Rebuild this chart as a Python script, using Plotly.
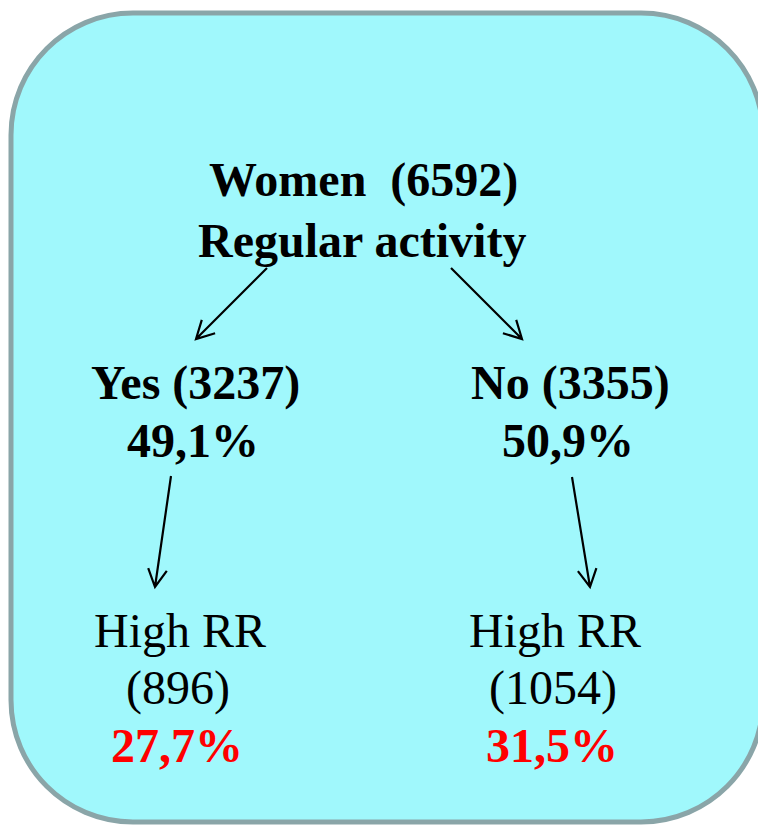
import math
import plotly.graph_objects as go

# ---- data ----
root_label = "Women"
root_n = 6592
question = "Regular activity"
group_labels = ["Yes", "No"]
group_n = [3237, 3355]
group_pct = ["49,1%", "50,9%"]
outcome_label = "High RR"
outcome_n = [896, 1054]
outcome_pct = ["27,7%", "31,5%"]

W, H = 758, 826
FONT = "Liberation Serif, Times New Roman, serif"
FS = 48

fig = go.Figure()
fig.add_trace(go.Scatter(x=[0], y=[0], mode="markers", marker=dict(opacity=0), hoverinfo="skip", showlegend=False))

# rounded box
x0, y0, x1, y1, r = 11, 13, 763, 822, 122
k = 0.5523 * r
path = (f"M{x0+r},{y0} L{x1-r},{y0} C{x1-r+k},{y0} {x1},{y0+r-k} {x1},{y0+r} "
        f"L{x1},{y1-r} C{x1},{y1-r+k} {x1-r+k},{y1} {x1-r},{y1} "
        f"L{x0+r},{y1} C{x0+r-k},{y1} {x0},{y1-r+k} {x0},{y1-r} "
        f"L{x0},{y0+r} C{x0},{y0+r-k} {x0+r-k},{y0} {x0+r},{y0} Z")
shapes = [dict(type="path", path=path, xref="x", yref="y",
               fillcolor="#a0f8fc", line=dict(color="#8aa5a8", width=5), layer="below")]

def arrow(xs, ys, xe, ye, L=20, ang=28):
    a = math.atan2(ye - ys, xe - xs)
    pts = []
    for s in (1, -1):
        b = a + math.pi + s * math.radians(ang)
        pts.append((xe + L * math.cos(b), ye + L * math.sin(b)))
    p = (f"M{xs},{ys} L{xe},{ye} M{pts[0][0]:.1f},{pts[0][1]:.1f} L{xe},{ye} "
         f"L{pts[1][0]:.1f},{pts[1][1]:.1f}")
    return dict(type="path", path=p, xref="x", yref="y", line=dict(color="black", width=2.2))

shapes += [arrow(267, 268, 196, 339), arrow(451, 268, 522, 339),
           arrow(171, 476, 155, 587), arrow(572, 477, 590, 587)]

ann = []
def txt(x, y, s, bold=True, color="black"):
    ann.append(dict(x=x, y=y, xref="x", yref="y", showarrow=False,
                    text=(f"<b>{s}</b>" if bold else s),
                    font=dict(family=FONT, size=FS, color=color),
                    xanchor="center", yanchor="middle"))

txt(363, 180, f"{root_label}  ({root_n})")
txt(362, 240, question)
cx = [195, 570]
for i in range(2):
    txt(cx[i], 383, f"{group_labels[i]} ({group_n[i]})")
    txt(cx[i] - 2, 440, group_pct[i])
ox = [180, 555]
for i in range(2):
    txt(ox[i], 630, outcome_label, bold=False)
    txt(ox[i] - 2, 688, f"({outcome_n[i]})", bold=False)
    txt(ox[i] - 3, 745, outcome_pct[i], color="#ff0000")

fig.update_layout(
    width=W, height=H, margin=dict(l=0, r=0, t=0, b=0),
    paper_bgcolor="white", plot_bgcolor="white",
    xaxis=dict(range=[0, W], visible=False, fixedrange=True),
    yaxis=dict(range=[H, 0], visible=False, fixedrange=True),
    shapes=shapes, annotations=ann, showlegend=False,
)
fig.write_html("out.html", config={"displayModeBar": False},
               post_script="document.body.style.margin='0';document.body.style.overflow='hidden';")
